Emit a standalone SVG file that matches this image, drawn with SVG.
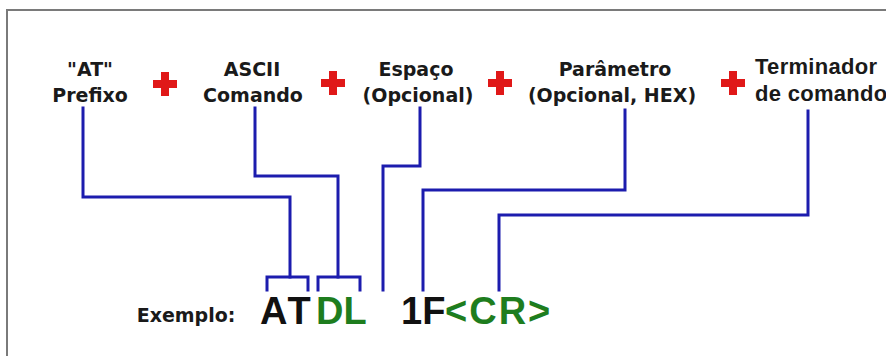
<svg xmlns="http://www.w3.org/2000/svg" width="886" height="356" viewBox="0 0 886 356">
<style>
.lbl{font-family:"DejaVu Sans",Verdana,sans-serif;font-weight:bold;font-size:19px;fill:#1a1a1a;text-anchor:middle}
.lbl2{font-family:"Liberation Sans",Arial,sans-serif;font-weight:bold;font-size:22px;fill:#1a1a1a;letter-spacing:0.3px}
.big{font-family:"Liberation Sans",Arial,sans-serif;font-weight:bold;font-size:38px}
.blk{fill:#111}
.grn{fill:#1e7d1e}
.plus{fill:#e01818}
.wire{fill:none;stroke:#1c1cae;stroke-width:3;stroke-linejoin:miter;stroke-linecap:square}
</style>
<defs>
<g id="plusShape"><rect x="-12" y="-4" width="24" height="8"/><rect x="-4" y="-12" width="8" height="24"/></g>
</defs>
<rect x="0" y="0" width="886" height="356" fill="#ffffff"/>
<rect x="7" y="10" width="900" height="360" fill="none" stroke="#7a7a7a" stroke-width="2"/>

<g id="node-prefixo">
<text class="lbl" x="90" y="76">"AT"</text>
<text class="lbl" x="90" y="102">Prefixo</text>
</g>
<g id="node-comando">
<text class="lbl" x="252" y="76">ASCII</text>
<text class="lbl" x="253" y="102">Comando</text>
</g>
<g id="node-espaco">
<text class="lbl" x="416" y="76">Espaço</text>
<text class="lbl" x="418" y="102">(Opcional)</text>
</g>
<g id="node-parametro">
<text class="lbl" x="615" y="76">Parâmetro</text>
<text class="lbl" x="612" y="102">(Opcional, HEX)</text>
</g>
<g id="node-terminador">
<text class="lbl2" x="755" y="74">Terminador</text>
<text class="lbl2" x="755" y="101">de comando</text>
</g>

<g id="plus-signs" class="plus">
<use href="#plusShape" x="165" y="84"/>
<use href="#plusShape" x="333" y="83"/>
<use href="#plusShape" x="500" y="83"/>
<use href="#plusShape" x="733" y="83"/>
</g>

<g id="connectors" class="wire">
<polyline points="83,108 83,197 290,197 290,277"/>
<polyline points="267,290 267,277 308,277 308,290"/>
<polyline points="255,108 255,176 338,176 338,277"/>
<polyline points="318,290 318,277 360,277 360,290"/>
<polyline points="420,108 420,166 383,166 383,290"/>
<polyline points="625,110 625,190 423,190 423,290"/>
<polyline points="808,111 808,215 499,215 499,290"/>
</g>

<g id="node-exemplo">
<text class="lbl" x="186" y="322">Exemplo:</text>
<text class="big blk" x="260" y="324" letter-spacing="3">AT</text>
<text class="big grn" x="316" y="324">DL</text>
<text class="big blk" x="401" y="324">1F</text>
<text class="big grn" x="445" y="324" letter-spacing="2">&lt;CR&gt;</text>
</g>
</svg>
